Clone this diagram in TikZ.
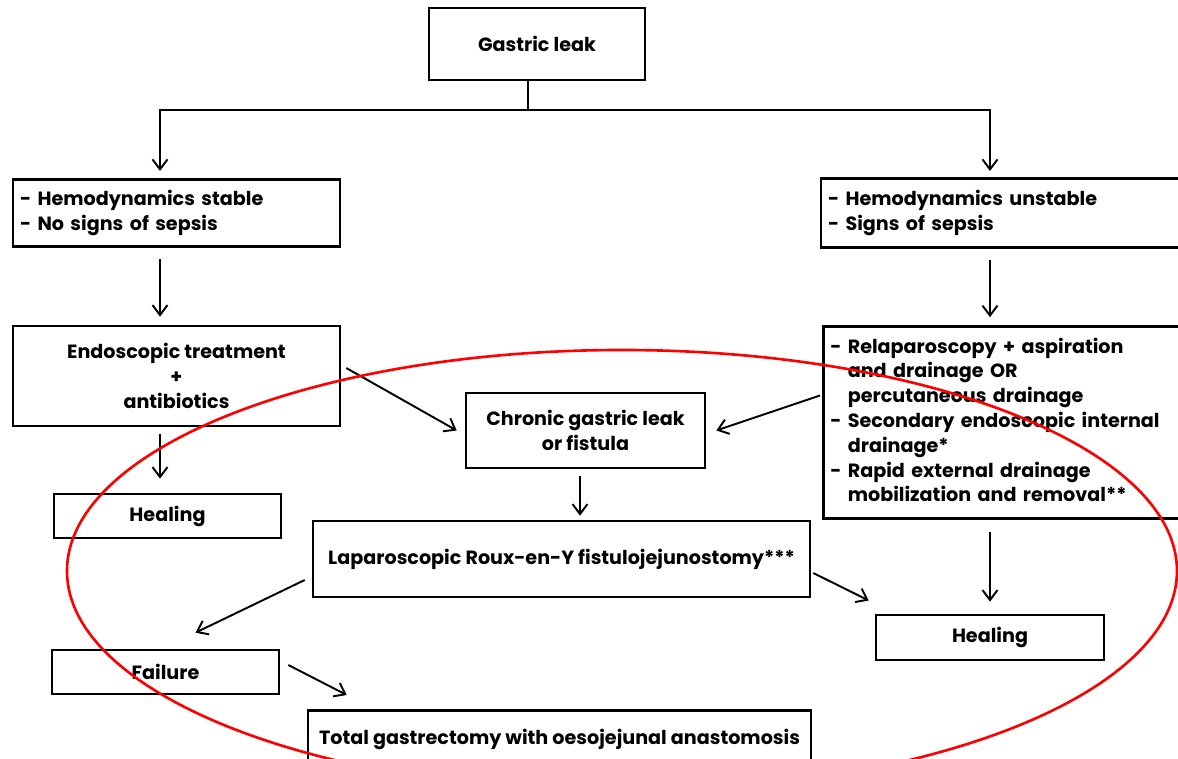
\documentclass[tikz,border=0pt]{standalone}
\usepackage{fontspec}
\setmainfont{Poppins}
\usetikzlibrary{arrows.meta}
\begin{document}
\begin{tikzpicture}[x=0.02cm,y=-0.02cm,
	box/.style={draw, line width=1.5pt, inner sep=0pt, font=\bfseries\fontsize{10.9}{14.4}\selectfont},
	listbox/.style={box, align=left, inner xsep=0.14cm},
	arr/.style={-{Straight Barb[length=0.2cm,width=0.3cm]}, line width=1.1pt},
	gap/.style={shorten <=0.22cm, shorten >=0.16cm}]
	\useasboundingbox (0,0) rectangle (1178,759);
	\clip (0,0) rectangle (1178,759);
	% boxes
	\node[box, minimum width=4.32cm, minimum height=1.44cm] (leak) at (537,44) {Gastric leak};
	\node[listbox, text width=6.26cm, minimum height=1.34cm] (stable) at (176.5,213) {- Hemodynamics stable\\- No signs of sepsis};
	\node[listbox, text width=7.1cm, minimum height=1.38cm] (unstable) at (1005.5,213) {- Hemodynamics unstable\\- Signs of sepsis};
	\node[box, align=center, minimum width=6.54cm, minimum height=2cm] (endo) at (176.5,376) {Endoscopic treatment\\+\\antibiotics};
	\node[listbox, anchor=west, text width=7.1cm, minimum height=3.84cm] (drain) at (822,422.5) {\renewcommand{\arraystretch}{0.98}\begin{tabular}{@{}l@{\,\,}l@{}}
		- & Relaparoscopy + aspiration\\
		  & and drainage OR\\
		  & percutaneous drainage\\
		- & Secondary endoscopic internal\\
		  & drainage*\\
		- & Rapid external drainage\\
		  & mobilization and removal**
	\end{tabular}};
	\node[box, align=center, minimum width=4.78cm, minimum height=1.5cm] (chronic) at (585.5,430.5) {Chronic gastric leak\\or fistula};
	\node[box, minimum width=4.54cm, minimum height=0.88cm] (healL) at (167.5,516) {Healing};
	\node[box, minimum width=9.94cm, minimum height=1.52cm] (lapro) at (561.5,559) {Laparoscopic Roux-en-Y fistulojejunostomy***};
	\node[box, minimum width=4.56cm, minimum height=0.9cm] (healR) at (990,637.5) {Healing};
	\node[box, minimum width=4.54cm, minimum height=0.88cm] (fail) at (165.5,672) {Failure};
	\node[box, minimum width=10.06cm, minimum height=1.3cm, anchor=north] (total) at (559.5,709) {\raisebox{0.24cm}{Total gastrectomy with oesojejunal anastomosis}};
	% split below the first box
	\coordinate (mid) at (528,110);
	\coordinate (jl) at (160,171);
	\coordinate (jr) at (990,171);
	\draw[line width=1.1pt] (leak.south -| mid) -- (mid);
	\draw[arr] (mid) -| (jl);
	\draw[arr] (mid) -| (jr);
	% vertical arrows
	\draw[arr, gap] (stable.south -| jl) -- (endo.north -| jl);
	\draw[arr, gap] (unstable.south -| jr) -- (drain.north -| jr);
	\draw[arr, shorten <=0.14cm, shorten >=0.28cm] (endo.south -| jl) -- (healL.north -| jl);
	\draw[arr, shorten <=0.24cm, shorten >=0.24cm] (drain.south -| jr) -- (healR.north -| jr);
	\draw[arr, shorten <=0.14cm, shorten >=0.08cm] ([xshift=-0.11cm]chronic.south) -- ([xshift=-0.11cm]chronic.south |- lapro.north);
	% slanted arrows
	\draw[arr] ([shift={(5,-8)}]endo.east) -- ([shift={(-8,0)}]chronic.west);
	\draw[arr] ([shift={(-2,-27)}]drain.west) -- ([shift={(10,0)}]chronic.east);
	\draw[arr] ([shift={(-7,21)}]lapro.west) -- ([shift={(30,-16)}]fail.north);
	\draw[arr] ([shift={(2,14)}]lapro.east) -- ([shift={(-6,-37)}]healR.west);
	\draw[arr] ([shift={(8,-7)}]fail.east) -- ([shift={(40,-14)}]total.north west);
	% red ellipse
	\draw[red, line width=1.5pt] (622,571) ellipse [x radius=555, y radius=221];
\end{tikzpicture}
\end{document}
